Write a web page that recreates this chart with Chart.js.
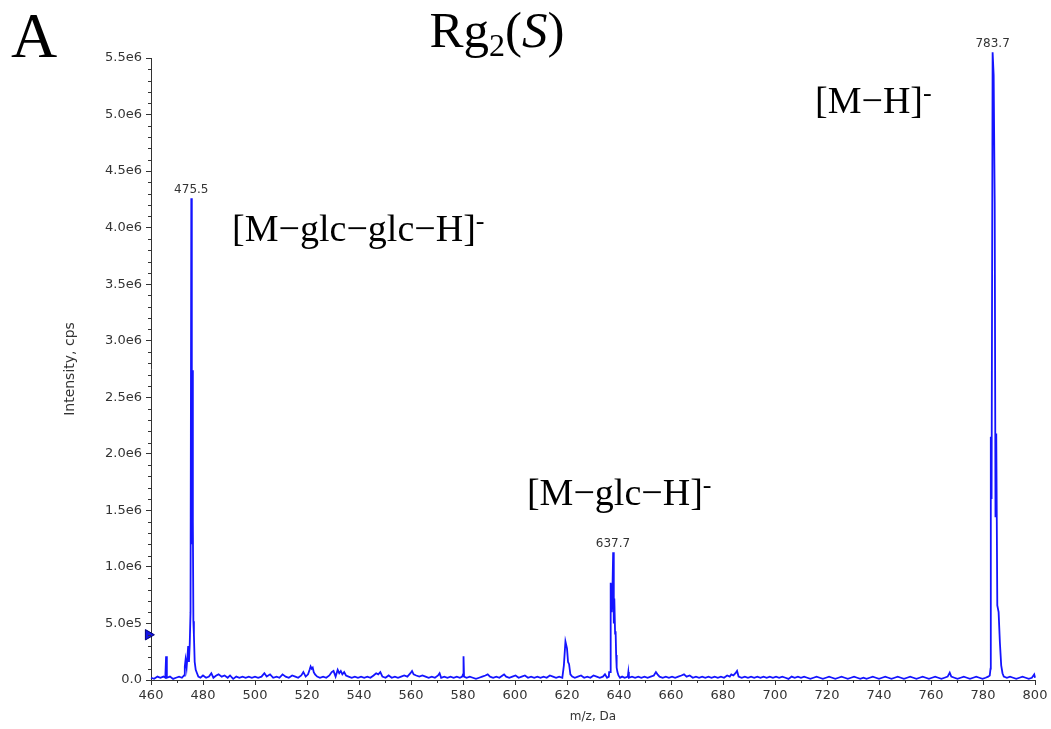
<!DOCTYPE html>
<html>
<head>
<meta charset="utf-8">
<title>Rg2(S) spectrum</title>
<script src="https://cdn.jsdelivr.net/npm/chart.js@4.4.1/dist/chart.umd.min.js"></script>
<style>
  html, body { margin: 0; padding: 0; background: #fff; }
  #wrap { position: relative; width: 1051px; height: 729px; }
</style>
</head>
<body>
<div id="wrap"><canvas id="spectrum"></canvas></div>
<script>
// m/z values of the profile (Da)
const mz = [
    460.0, 461.2, 462.5, 463.6, 464.8, 465.5, 465.8, 466.1, 467.3, 468.5, 469.6, 470.8, 471.9, 472.7,
    473.0, 473.3, 473.7, 474.0, 474.3, 474.6, 474.9, 475.2, 475.5, 475.7, 475.9, 476.1, 476.3, 476.5, 476.8, 477.2, 477.7, 478.2, 479.0,
    480.0, 481.2, 482.3, 483.2, 484.0, 485.1, 486.0, 487.2, 488.3, 489.5, 490.4, 491.6, 492.8, 494.0, 495.2, 496.4, 497.6, 498.8,
    500.0, 501.2, 502.5, 503.6, 504.5, 505.8, 507.0, 508.3, 509.4, 510.6, 511.8, 513.0, 514.3, 515.5, 516.6, 517.8, 518.6, 519.5,
    520.4, 521.0, 521.4, 521.8, 522.2, 522.6, 523.1, 523.9, 525.0, 526.2, 527.4, 528.6, 529.5, 530.2, 531.0, 531.8, 532.4, 533.0, 533.6, 534.3, 535.0, 536.0, 537.2, 538.4, 539.6,
    540.8, 542.0, 543.2, 544.4, 545.6, 546.6, 547.4, 548.2, 549.0, 550.2, 551.4, 552.6, 553.8, 555.0, 556.2, 557.4, 558.6, 559.8,
    560.4, 561.0, 562.0, 563.2, 564.4, 565.6, 566.8, 568.0, 569.2, 570.4, 571.0, 571.6, 572.8, 574.0, 575.2, 576.4, 577.6, 578.8, 579.7,
    580.0, 580.2, 580.4, 581.4, 582.6, 583.8, 585.0, 586.2, 587.4, 588.6, 589.5, 590.4, 591.6, 592.8, 594.0, 595.2, 595.8, 596.6, 597.8, 599.0,
    600.2, 601.4, 602.6, 603.8, 605.0, 606.2, 607.4, 608.6, 609.8, 611.0, 612.2, 613.4, 614.6, 615.8, 617.0, 618.2,
    618.8, 619.4, 620.0, 620.4, 620.8, 621.3, 622.0, 623.0, 624.2, 625.4, 626.6, 627.8, 629.0, 630.2, 631.4, 632.6, 633.8, 634.6, 635.4,
    636.1, 636.2, 636.6, 636.7, 636.9, 637.2, 637.5, 637.75, 638.0, 638.2, 638.5, 638.7, 638.9, 639.1, 639.4, 639.8, 640.4, 641.2, 642.2, 643.4, 643.6, 643.8,
    645.0, 646.2, 647.4, 648.6, 649.8, 651.0, 652.2, 653.4, 654.2, 654.8, 655.6, 656.8, 658.0, 659.2, 660.4, 661.6, 662.8,
    664.0, 665.0, 666.0, 667.2, 668.4, 669.6, 670.8, 672.0, 673.2, 674.4, 675.6, 676.8, 678.0, 679.2, 680.4,
    681.6, 682.6, 683.2, 684.0, 684.8, 685.4, 686.0, 687.2, 688.4, 689.6, 690.8, 692.0, 693.2, 694.4, 695.6, 696.8, 698.0, 699.2,
    700.4, 701.6, 702.8, 704.0, 705.2, 706.4, 707.6, 708.8, 710.0, 711.2, 712.4, 713.6, 714.8, 716.0, 717.2, 718.4, 719.6,
    720.8, 722.0, 723.2, 724.4, 725.6, 726.8, 728.0, 729.2, 730.4, 731.6, 732.8, 734.0, 735.2, 736.4, 737.6, 738.8,
    740.0, 741.2, 742.4, 743.6, 744.8, 746.0, 747.2, 748.4, 749.6, 750.8, 752.0, 753.2, 754.4, 755.6, 756.8, 758.0, 759.2,
    760.4, 761.6, 762.8, 764.0, 765.2, 766.4, 767.2, 767.8, 769.0, 770.2, 771.4, 772.6, 773.8, 775.0, 776.2, 777.4, 778.6, 779.8, 781.0, 782.0,
    782.6, 782.9, 783.0, 783.3, 783.7, 784.1, 784.5, 784.8, 785.1, 785.5, 786.0, 786.5, 787.0, 787.5, 788.0,
    789.2, 790.4, 791.6, 792.8, 794.0, 795.2, 796.4, 797.6, 798.8, 799.7, 800.0
];

// intensity (cps), same order as mz
const intensity = [
    2e4, 1e4, 3e4, 2e4, 3e4, 2e4, 2.1e5, 2e4, 3e4, 1e4, 2e4, 3e4, 2e4, 4e4,
    1.2e5, 1.8e5, 1.1e5, 2.0e5, 3.0e5, 1.6e5, 3.2e5, 6.0e5, 4.26e6, 1.2e6, 2.74e6, 1.4e6, 5.2e5, 4.0e5, 1.6e5, 9e4, 6e4, 3e4, 2e4,
    4e4, 2e4, 3e4, 6e4, 2e4, 4e4, 5e4, 3e4, 4e4, 2e4, 4e4, 1e4, 3e4, 2e4, 3e4, 2e4, 3e4, 2e4,
    3e4, 2e4, 3e4, 6e4, 3e4, 5e4, 2e4, 3e4, 2e4, 5e4, 3e4, 2e4, 4e4, 3e4, 2e4, 4e4, 7e4, 3e4,
    5e4, 9e4, 1.2e5, 1.0e5, 1.1e5, 7e4, 5e4, 3e4, 2e4, 3e4, 2e4, 4e4, 7e4, 8e4, 3e4, 9e4, 6e4, 8e4, 5e4, 7e4, 4e4, 3e4, 2e4, 3e4, 2e4,
    3e4, 2e4, 3e4, 2e4, 4e4, 6e4, 5e4, 7e4, 3e4, 2e4, 4e4, 2e4, 3e4, 2e4, 3e4, 4e4, 3e4, 6e4,
    8e4, 5e4, 4e4, 3e4, 4e4, 3e4, 2e4, 3e4, 2e4, 4e4, 6e4, 2e4, 3e4, 2e4, 3e4, 2e4, 3e4, 2e4, 3e4,
    5e4, 2.1e5, 3e4, 2e4, 3e4, 2e4, 1e4, 2e4, 3e4, 4e4, 5e4, 3e4, 2e4, 3e4, 2e4, 4e4, 5e4, 3e4, 2e4, 3e4,
    4e4, 2e4, 3e4, 4e4, 2e4, 3e4, 2e4, 3e4, 2e4, 3e4, 2e4, 4e4, 3e4, 2e4, 3e4, 2e4,
    1.3e5, 3.4e5, 2.8e5, 1.6e5, 1.4e5, 5e4, 3e4, 2e4, 3e4, 4e4, 2e4, 3e4, 2e4, 4e4, 3e4, 2e4, 3e4, 5e4, 2e4,
    3e4, 7e4, 7e4, 1.0e5, 8.6e5, 6.0e5, 8.2e5, 1.13e6, 5.0e5, 7.2e5, 4.1e5, 4.3e5, 2.2e5, 1.1e5, 7e4, 4e4, 2e4, 3e4, 2e4, 3e4, 7e4, 2e4,
    3e4, 2e4, 3e4, 2e4, 3e4, 2e4, 3e4, 4e4, 7e4, 5e4, 3e4, 2e4, 3e4, 2e4, 3e4, 2e4, 3e4,
    4e4, 5e4, 3e4, 4e4, 2e4, 3e4, 2e4, 3e4, 2e4, 3e4, 2e4, 3e4, 2e4, 3e4, 2e4,
    4e4, 3e4, 5e4, 4e4, 6e4, 8e4, 3e4, 2e4, 3e4, 2e4, 3e4, 2e4, 3e4, 2e4, 3e4, 2e4, 3e4, 2e4,
    3e4, 2e4, 3e4, 2e4, 1e4, 3e4, 2e4, 3e4, 2e4, 3e4, 2e4, 1e4, 2e4, 3e4, 2e4, 1e4, 2e4,
    3e4, 2e4, 1e4, 2e4, 3e4, 2e4, 1e4, 2e4, 3e4, 2e4, 1e4, 2e4, 1e4, 2e4, 3e4, 2e4,
    1e4, 2e4, 3e4, 2e4, 1e4, 2e4, 3e4, 2e4, 1e4, 2e4, 3e4, 2e4, 1e4, 2e4, 3e4, 2e4, 1e4,
    2e4, 3e4, 2e4, 1e4, 2e4, 3e4, 6.5e4, 3e4, 2e4, 1e4, 2e4, 3e4, 2e4, 1e4, 2e4, 3e4, 2e4, 1e4, 2e4, 3e4,
    4e4, 1.0e5, 2.15e6, 1.6e6, 5.55e6, 5.35e6, 4.22e6, 1.44e6, 2.18e6, 6.6e5, 6.0e5, 3.3e5, 1.3e5, 6e4, 3e4,
    2e4, 3e4, 2e4, 1e4, 2e4, 3e4, 2e4, 1e4, 2e4, 5e4, 2e4
];

// axis ticks
const xTickValues = [460, 480, 500, 520, 540, 560, 580, 600, 620, 640, 660, 680, 700, 720, 740, 760, 780, 800];
const xMinorValues = [470, 490, 510, 530, 550, 570, 590, 610, 630, 650, 670, 690, 710, 730, 750, 770, 790];
const yTickValues = [0, 5e5, 1e6, 1.5e6, 2e6, 2.5e6, 3e6, 3.5e6, 4e6, 4.5e6, 5e6, 5.5e6];
const yTickLabels = ['0.0', '5.0e5', '1.0e6', '1.5e6', '2.0e6', '2.5e6', '3.0e6', '3.5e6', '4.0e6', '4.5e6', '5.0e6', '5.5e6'];
const yMinorValues = [1e5, 2e5, 3e5, 4e5, 6e5, 7e5, 8e5, 9e5, 1.1e6, 1.2e6, 1.3e6, 1.4e6, 1.6e6, 1.7e6, 1.8e6, 1.9e6,
    2.1e6, 2.2e6, 2.3e6, 2.4e6, 2.6e6, 2.7e6, 2.8e6, 2.9e6, 3.1e6, 3.2e6, 3.3e6, 3.4e6, 3.6e6, 3.7e6, 3.8e6, 3.9e6,
    4.1e6, 4.2e6, 4.3e6, 4.4e6, 4.6e6, 4.7e6, 4.8e6, 4.9e6, 5.1e6, 5.2e6, 5.3e6, 5.4e6];

// labelled peaks
const peakMz = [475.5, 637.7, 783.7];
const peakTop = [4.26e6, 1.13e6, 5.55e6];
const peakLabels = ['475.5', '637.7', '783.7'];

// ion assignments (left edge m/z, baseline intensity)
const ionLabels = ['[M\u2212glc\u2212glc\u2212H]', '[M\u2212glc\u2212H]', '[M\u2212H]'];
const ionMz = [491.2, 604.6, 715.4];
const ionY = [3.88e6, 1.545e6, 5.01e6];

// left-edge marker
const markerMz = [459];
const markerY = [4.0e5];

const serif = '"Liberation Serif", "Times New Roman", serif';
const sans = '"DejaVu Sans", Verdana, sans-serif';

function drawParts(ctx, x, y, parts) {
    parts.forEach(function (p) {
        ctx.font = p.font;
        ctx.fillText(p.text, x, y + (p.dy || 0));
        x += ctx.measureText(p.text).width;
    });
}

const textPlugin = {
    id: 'spectrumText',
    afterDraw: function (chart) {
        const ctx = chart.ctx;
        const xs = chart.scales.x;
        const ys = chart.scales.y;
        ctx.save();

        // minor ticks
        ctx.strokeStyle = '#333';
        ctx.lineWidth = 1;
        ctx.beginPath();
        xMinorValues.forEach(function (v) {
            const px = Math.round(xs.getPixelForValue(v)) + 0.5;
            ctx.moveTo(px, ys.bottom);
            ctx.lineTo(px, ys.bottom + 3);
        });
        yMinorValues.forEach(function (v) {
            const py = Math.round(ys.getPixelForValue(v)) + 0.5;
            ctx.moveTo(xs.left - 3, py);
            ctx.lineTo(xs.left, py);
        });
        ctx.stroke();

        // peak m/z labels
        ctx.fillStyle = '#333';
        ctx.font = '12px ' + sans;
        ctx.textAlign = 'center';
        ctx.textBaseline = 'alphabetic';
        peakMz.forEach(function (m, i) {
            ctx.fillText(peakLabels[i], xs.getPixelForValue(m), ys.getPixelForValue(peakTop[i]) - 5);
        });

        // ion labels
        ctx.fillStyle = '#000';
        ctx.textAlign = 'left';
        ionLabels.forEach(function (t, i) {
            drawParts(ctx, xs.getPixelForValue(ionMz[i]), ys.getPixelForValue(ionY[i]), [
                {text: t, font: '38px ' + serif},
                {text: '-', font: '26px ' + serif, dy: -12}
            ]);
        });

        // panel letter
        ctx.font = '64px ' + serif;
        ctx.fillText('A', 11, 57);

        // title Rg2(S)
        const parts = [
            {text: 'Rg', font: '51px ' + serif},
            {text: '2', font: '32px ' + serif, dy: 9},
            {text: '(', font: '51px ' + serif},
            {text: 'S', font: 'italic 51px ' + serif},
            {text: ')', font: '51px ' + serif}
        ];
        let w = 0;
        parts.forEach(function (p) { ctx.font = p.font; w += ctx.measureText(p.text).width; });
        drawParts(ctx, 497 - w / 2, 47, parts);

        ctx.restore();
    }
};

let ctx = document.getElementById('spectrum').getContext('2d');

let spectrumChart = new Chart(ctx, {
    type: 'line',
    data: {
        datasets: [{
            label: 'Rg2(S)',
            data: mz.map(function (m, i) { return {x: m, y: intensity[i]}; }),
            borderColor: 'rgb(20, 20, 255)',
            borderWidth: 1.8,
            pointRadius: 0,
            tension: 0,
            clip: false
        }, {
            label: 'marker',
            data: markerMz.map(function (m, i) { return {x: m, y: markerY[i]}; }),
            showLine: false,
            pointStyle: 'triangle',
            rotation: 90,
            pointRadius: 6,
            backgroundColor: 'rgb(20, 20, 230)',
            borderColor: 'rgb(0, 0, 120)',
            borderWidth: 1,
            clip: false
        }]
    },
    options: {
        responsive: true,
        maintainAspectRatio: false,
        animation: false,
        layout: {
            padding: {left: 0, top: 58, right: 16, bottom: 0}
        },
        plugins: {
            legend: {display: false},
            tooltip: {enabled: false}
        },
        scales: {
            x: {
                type: 'linear',
                min: 460,
                max: 800,
                afterBuildTicks: function (scale) {
                    scale.ticks = xTickValues.map(function (v) { return {value: v}; });
                },
                afterFit: function (scale) { scale.height = 49; },
                ticks: {
                    autoSkip: false,
                    maxRotation: 0,
                    padding: 3,
                    color: '#333',
                    font: {family: sans, size: 13},
                    callback: function (v) { return String(v); }
                },
                grid: {drawOnChartArea: false, drawTicks: true, tickLength: 5, color: '#333'},
                border: {display: true, color: '#333', width: 1},
                title: {
                    display: true,
                    text: 'm/z, Da',
                    color: '#333',
                    font: {family: sans, size: 12},
                    padding: {top: 0, bottom: 5}
                }
            },
            y: {
                min: 0,
                max: 5.5e6,
                afterBuildTicks: function (scale) {
                    scale.ticks = yTickValues.map(function (v) { return {value: v}; });
                },
                afterFit: function (scale) { scale.width = 151; },
                ticks: {
                    padding: 4,
                    color: '#333',
                    font: {family: sans, size: 13},
                    callback: function (v, i) { return yTickLabels[i]; }
                },
                grid: {drawOnChartArea: false, drawTicks: true, tickLength: 5, color: '#333'},
                border: {display: true, color: '#333', width: 1},
                title: {
                    display: true,
                    text: 'Intensity, cps',
                    color: '#333',
                    font: {family: sans, size: 14},
                    padding: {top: 62, bottom: 0}
                }
            }
        }
    },
    plugins: [textPlugin]
});
</script>
</body>
</html>
